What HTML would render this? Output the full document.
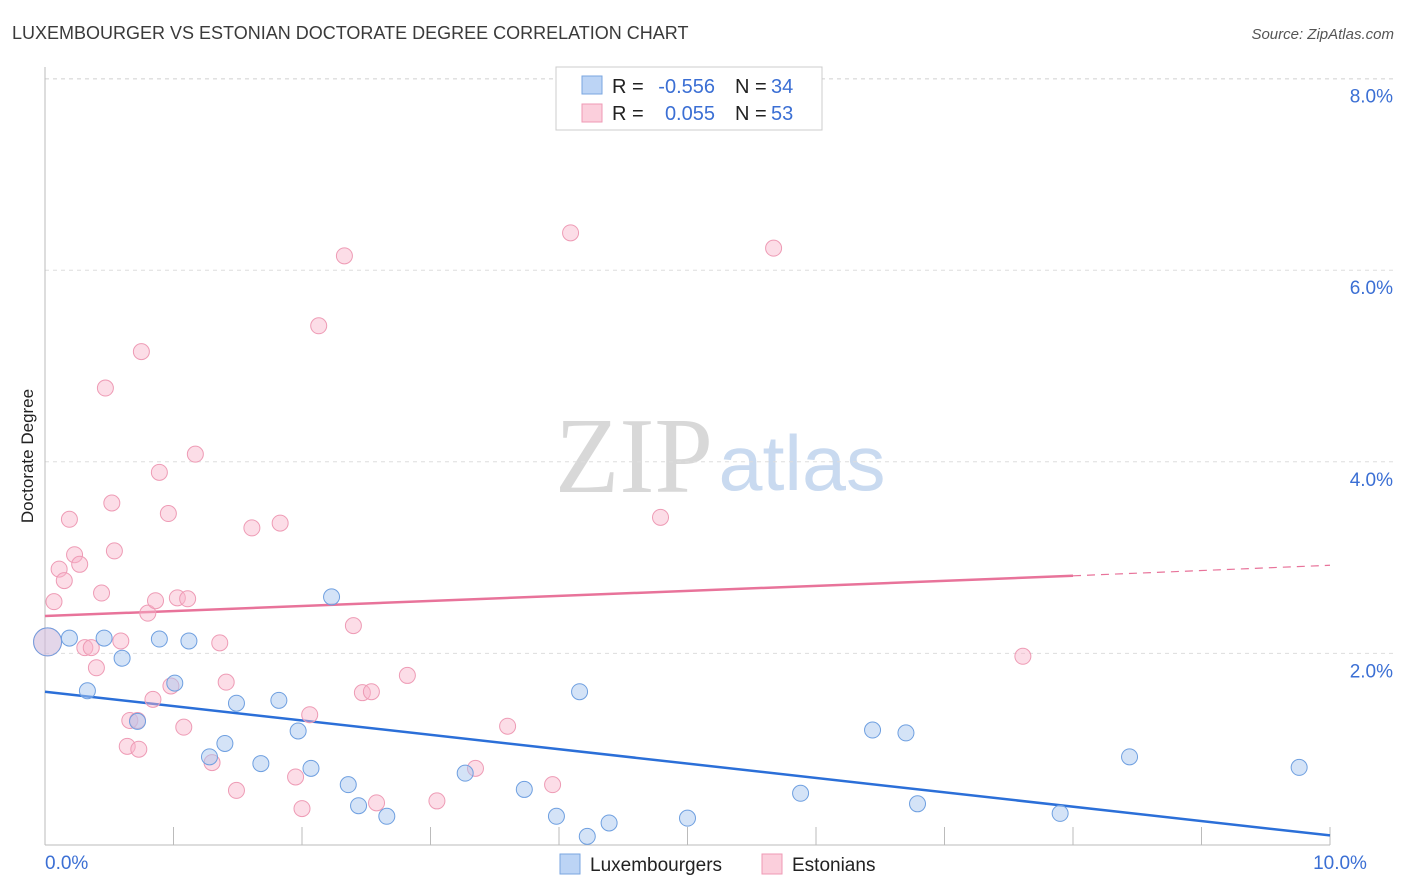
<!DOCTYPE html>
<html><head><meta charset="utf-8"><style>
body{margin:0;background:#fff;font-family:"Liberation Sans",sans-serif}
</style></head><body>
<svg id="chart" width="1406" height="892" style="display:block">
<text x="12" y="39" font-size="18" fill="#3a3a3a">LUXEMBOURGER VS ESTONIAN DOCTORATE DEGREE CORRELATION CHART</text>
<text x="1394" y="39" font-size="15" font-style="italic" fill="#555" text-anchor="end">Source: ZipAtlas.com</text>
<text x="33" y="456" font-size="17" fill="#222" transform="rotate(-90 33 456)" text-anchor="middle">Doctorate Degree</text>
<g>
<text x="634" y="492" font-size="108" font-family="Liberation Serif" fill="#d8d8d8" text-anchor="middle" textLength="158" lengthAdjust="spacingAndGlyphs">ZIP</text>
<text x="802" y="490" font-size="78" fill="#c9daf0" text-anchor="middle" textLength="167" lengthAdjust="spacingAndGlyphs">atlas</text>
</g>
<g id="grid"></g><g id="axes"></g><g id="trend"></g><g id="pts"></g>
<g>
<rect x="556" y="67" width="266" height="63" fill="#fff" stroke="#ccc"/>
<rect x="582" y="76" width="20" height="18" fill="#bcd4f5" stroke="#7aa6e0"/>
<text x="612" y="93" font-size="20" fill="#222">R =</text>
<text x="715" y="93" font-size="20" fill="#3b6fd4" text-anchor="end">-0.556</text>
<text x="735" y="93" font-size="20" fill="#222">N =</text>
<text x="771" y="93" font-size="20" fill="#3b6fd4">34</text>
<rect x="582" y="104" width="20" height="18" fill="#fbcfdc" stroke="#ef9ab5"/>
<text x="612" y="120" font-size="20" fill="#222">R =</text>
<text x="715" y="120" font-size="20" fill="#3b6fd4" text-anchor="end">0.055</text>
<text x="735" y="120" font-size="20" fill="#222">N =</text>
<text x="771" y="120" font-size="20" fill="#3b6fd4">53</text>
</g>
<g>
<rect x="560" y="854" width="20" height="20" fill="#bcd4f5" stroke="#7aa6e0"/>
<text x="590" y="871" font-size="19" fill="#222">Luxembourgers</text>
<rect x="762" y="854" width="20" height="20" fill="#fbcfdc" stroke="#ef9ab5"/>
<text x="792" y="871" font-size="19" fill="#222">Estonians</text>
</g>
</svg>
<script>
const xTicks=[0,10];
const yTicks=[2,4,6,8];
const blueX=[0.02,0.19,0.33,0.46,0.60,0.72,0.89,1.01,1.12,1.28,1.40,1.49,1.68,1.82,1.97,2.07,2.23,2.36,2.44,2.66,3.27,3.73,3.98,4.16,4.22,4.39,5.00,5.88,6.44,6.70,6.79,7.90,8.44,9.76];
const blueY=[2.12,2.16,1.61,2.16,1.95,1.29,2.15,1.69,2.13,0.92,1.06,1.48,0.85,1.51,1.19,0.80,2.59,0.63,0.41,0.30,0.75,0.58,0.30,1.60,0.09,0.23,0.28,0.54,1.20,1.17,0.43,0.33,0.92,0.81];
const pinkX=[0.02,0.07,0.11,0.15,0.19,0.23,0.27,0.31,0.36,0.40,0.44,0.47,0.52,0.54,0.59,0.66,0.64,0.72,0.73,0.75,0.80,0.84,0.86,0.89,0.96,0.98,1.03,1.08,1.11,1.17,1.30,1.36,1.41,1.49,1.61,1.83,1.95,2.00,2.06,2.13,2.33,2.40,2.47,2.54,2.58,2.82,3.05,3.35,3.60,3.95,4.09,4.79,5.67,7.61];
const pinkY=[2.12,2.54,2.88,2.76,3.40,3.03,2.93,2.06,2.06,1.85,2.63,4.77,3.57,3.07,2.13,1.30,1.03,1.30,1.00,5.15,2.42,1.52,2.55,3.89,3.46,1.66,2.58,1.23,2.57,4.08,0.86,2.11,1.70,0.57,3.31,3.36,0.71,0.38,1.36,5.42,6.15,2.29,1.59,1.60,0.44,1.77,0.46,0.80,1.24,0.63,6.39,3.42,6.23,1.97];
const blueTrend=[1.60,0.10];
const pinkTrend=[2.39,2.81,2.92];
const NS="http://www.w3.org/2000/svg";
const sx=v=>45+v*128.5, sy=v=>845-v*95.8;
function mk(t,a,p){const e=document.createElementNS(NS,t);for(const k in a)e.setAttribute(k,a[k]);p.appendChild(e);return e;}
const grid=document.getElementById('grid'),axes=document.getElementById('axes'),trend=document.getElementById('trend'),pts=document.getElementById('pts');
yTicks.forEach(v=>{
 const l=mk('line',{x1:45,x2:1394,y1:sy(v),y2:sy(v),stroke:'#ddd','stroke-dasharray':'4,4'},grid);
 
 
 const t=mk('text',{x:1393,y:sy(v)+24,'font-size':19,fill:'#3b6fd4','text-anchor':'end'},axes);t.textContent=v.toFixed(1)+'%';
 
 
});
mk('line',{x1:45,x2:1394,y1:79,y2:79,stroke:'#ddd','stroke-dasharray':'4,4'},grid);
mk('line',{x1:45,x2:45,y1:67,y2:845,stroke:'#bbb'},axes);
mk('line',{x1:45,x2:1330,y1:845,y2:845,stroke:'#bbb'},axes);
for(let i=1;i<=10;i++){const l=mk('line',{x1:sx(i),x2:sx(i),y1:827,y2:845,stroke:'#bbb'},axes);
 
 }
xTicks.forEach(v=>{const t=mk('text',{x:sx(v)+(v?10:0),y:869,'font-size':19,fill:'#3b6fd4','text-anchor':v?'middle':'start'},axes);t.textContent=v.toFixed(1)+'%';
 
 });
const bl=mk('line',{x1:sx(0),y1:sy(blueTrend[0]),x2:sx(10),y2:sy(blueTrend[1]),stroke:'#2b6fd8','stroke-width':2.5},trend);


const pl=mk('line',{x1:sx(0),y1:sy(pinkTrend[0]),x2:sx(8),y2:sy(pinkTrend[1]),stroke:'#e8739a','stroke-width':2.5},trend);


const pd=mk('line',{x1:sx(8),y1:sy(pinkTrend[1]),x2:sx(10),y2:sy(pinkTrend[2]),stroke:'#e8739a','stroke-width':1.2,'stroke-dasharray':'8,6'},trend);


pinkX.forEach((x,i)=>{const c=mk('circle',{cx:sx(x),cy:sy(pinkY[i]),r:i===0?14:8,fill:'rgba(248,180,202,0.45)',stroke:'#ee9bb5','stroke-width':1},pts);
 
 });
blueX.forEach((x,i)=>{const c=mk('circle',{cx:sx(x),cy:sy(blueY[i]),r:i===0?14:8,fill:i===0?'rgba(170,200,240,0.3)':'rgba(170,200,240,0.5)',stroke:'#6e9fe0','stroke-width':1},pts);
 
 });
</script>
</body></html>
